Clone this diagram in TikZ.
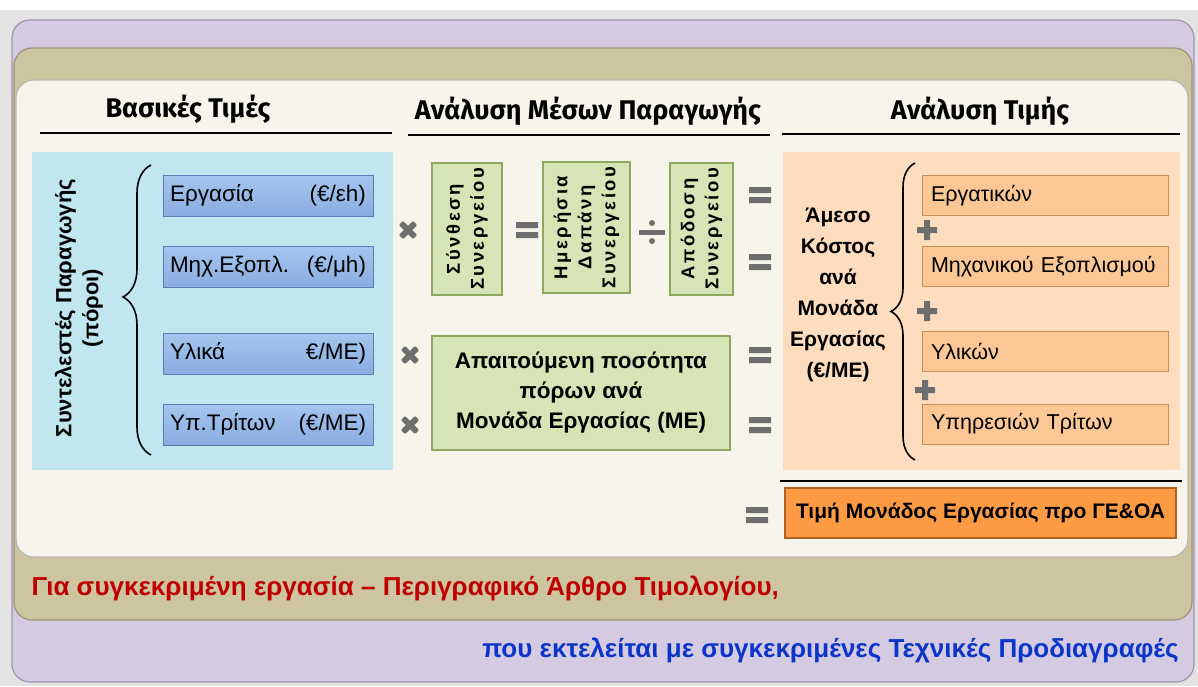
\documentclass[tikz,border=0pt]{standalone}
\usepackage{fontspec}
\setmainfont{Liberation Sans}
\newfontfamily\headfont{Fira Sans}
\usetikzlibrary{decorations.pathreplacing,positioning}
\definecolor{pagegray}{HTML}{E3E3E3}
\definecolor{lavender}{HTML}{D4CAE2}
\definecolor{khaki}{HTML}{CDC59F}
\definecolor{cream}{HTML}{F7F5EB}
\definecolor{bluepanel}{HTML}{C1E6F0}
\definecolor{orangepanel}{HTML}{FDDDBD}
\definecolor{bluetop}{HTML}{A6C5EF}
\definecolor{bluebot}{HTML}{88ADE0}
\definecolor{blueedge}{HTML}{5A7DB5}
\definecolor{greenfill}{HTML}{D7E4B5}
\definecolor{greenedge}{HTML}{8FA860}
\definecolor{orangebox}{HTML}{FBC895}
\definecolor{orangeedge}{HTML}{C78E55}
\definecolor{pricefill}{HTML}{FD9B45}
\definecolor{priceedge}{HTML}{B0631F}
\definecolor{symgray}{HTML}{6E6E6E}
\definecolor{redtxt}{HTML}{C00000}
\definecolor{bluetxt}{HTML}{0A35C8}
\begin{document}
\begin{tikzpicture}[
	x = 1pt, y = -1pt,
	panel/.style = { draw = #1!75!black, fill = #1, line width = 1.2pt, rounded corners = 18pt },
	headtxt/.style = { font = \headfont\bfseries\fontsize{27}{31}\selectfont },
	rule/.style = { line width = 2.4pt },
	brace/.style 2 args = { decorate, decoration = { brace, amplitude = #1, aspect = #2 }, line width = 1.6pt },
	bluebox/.style = { draw = blueedge, top color = bluetop, bottom color = bluebot, line width = 1pt,
		minimum width = 210pt, minimum height = 41pt, text width = 196pt, inner sep = 0pt,
		font = \fontsize{22.5}{26}\selectfont },
	greenbox/.style = { draw = greenedge, fill = greenfill, line width = 1.2pt, inner sep = 0pt,
		align = center, font = \bfseries\fontsize{18}{23}\selectfont },
	greenrot/.style = { greenbox, rotate = 90,
		font = \bfseries\fontsize{18.5}{24}\selectfont\addfontfeatures{LetterSpace=14} },
	orangebox/.style = { draw = orangeedge, fill = orangebox, line width = 1pt,
		minimum width = 246pt, minimum height = 40pt, text width = 228pt, align = left, inner sep = 0pt,
		font = \fontsize{21.5}{25}\selectfont },
	timessign/.pic = {
		\fill [symgray, rotate = 45, rounded corners = 1pt] (-3,-10) rectangle (3,10) (-10,-3) rectangle (10,3);
	},
	plussign/.pic = {
		\fill [symgray] (-3,-10) rectangle (3,10) (-10,-3) rectangle (10,3);
	},
	eqsign/.pic = {
		\fill [symgray] (-11,-8) rectangle (11,-2) (-11,2) rectangle (11,8);
	},
	divsign/.pic = {
		\fill [symgray] (-13,-2.5) rectangle (13,2.5);
		\fill [symgray] (0,-9) circle (3) (0,9) circle (3);
	}
]
	\useasboundingbox (0,0) rectangle (1198,686);
	\fill [white] (0,0) rectangle (1198,686);
	\fill [pagegray] (0,10) rectangle (1198,686);
	\draw [panel = lavender] (12,20) rectangle (1194,682);
	\draw [panel = khaki] (14,48) rectangle (1192,620);
	\draw [panel = cream] (16,80) rectangle (1188,557);

	\node [headtxt] (bashead) at (188,109) { Βασικές Τιμές };
	\node [headtxt] (meshead) at (588,111) { Ανάλυση Μέσων Παραγωγής };
	\node [headtxt] (timhead) at (980,111) { Ανάλυση Τιμής };
	\draw [rule] (40,133) -- (392,133);
	\draw [rule] (408,135) -- (770,135);
	\draw [rule] (782,134) -- (1180,134);

	\fill [bluepanel] (32,152) rectangle (393,470);
	\fill [orangepanel] (783,152) rectangle (1180,470);

	\node [rotate = 90, align = center, font = \bfseries\fontsize{22}{27}\selectfont] (syntel) at (79,308) { Συντελεστές Παραγωγής\\(πόροι) };
	\coordinate (lbrbot) at (151,455);
	\coordinate (lbrtop) at (151,165);
	\draw [brace = {28pt}{0.545}] (lbrbot) -- (lbrtop);

	\node [bluebox] (ergasia) at (268,195.5) { Εργασία \hfill (€/εh) };
	\node [bluebox] (mixan) at (268,266.5) { Μηχ.Εξοπλ. \hfill (€/μh) };
	\node [bluebox] (ylika) at (268,353.5) { Υλικά \hfill €/ΜΕ) };
	\node [bluebox] (tritoi) at (268,424.5) { Υπ.Τρίτων \hfill (€/ΜΕ) };

	\pic (x1) at (408,230) { timessign };
	\pic (x2) at (410,355) { timessign };
	\pic (x3) at (410,425) { timessign };

	\node [greenrot, minimum width = 132pt, minimum height = 70pt] (synthesi) at (467,229) { Σύνθεση\\Συνεργείου };
	\pic (e1) at (527,230) { eqsign };
	\node [greenrot, minimum width = 131pt, minimum height = 87pt] (dapani) at (586.5,227.5) { Ημερήσια\\Δαπάνη\\Συνεργείου };
	\pic (d1) at (652,232) { divsign };
	\node [greenrot, minimum width = 132pt, minimum height = 63pt] (apodosi) at (701.5,229) { Απόδοση\\Συνεργείου };
	\node [greenbox, minimum width = 298pt, minimum height = 114pt, font = \bfseries\fontsize{22.5}{30}\selectfont] (posotita) at (581,393) { Απαιτούμενη ποσότητα\\πόρων ανά\\Μονάδα Εργασίας (ΜΕ) };

	\pic (e2) at (760,195) { eqsign };
	\pic (e3) at (760,262) { eqsign };
	\pic (e4) at (760,355) { eqsign };
	\pic (e5) at (760,425) { eqsign };

	\node [align = center, font = \bfseries\fontsize{21}{31}\selectfont] (amesokostos) at (838,295) { Άμεσο\\Κόστος\\ανά\\Μονάδα\\Εργασίας\\(€/ΜΕ) };
	\coordinate (rbrbot) at (915,460);
	\coordinate (rbrtop) at (915,163);
	\draw [brace = {24pt}{0.5}] (rbrbot) -- (rbrtop);

	\node [orangebox] (ergatikon) at (1045,195.5) { Εργατικών };
	\pic (p1) at (927,230) { plussign };
	\node [orangebox] (mixanikou) at (1045,266.5) { Μηχανικού Εξοπλισμού };
	\pic (p2) at (927,311) { plussign };
	\node [orangebox] (ylikon) at (1045,351.5) { Υλικών };
	\pic (p3) at (925,390) { plussign };
	\node [orangebox] (ypiresion) at (1045,424) { Υπηρεσιών Τρίτων };

	\draw [rule] (780,481) -- (1182,481);
	\pic (e6) at (757,515) { eqsign };
	\node [draw = priceedge, fill = pricefill, line width = 1.2pt, minimum width = 391pt, minimum height = 50pt,
		font = \bfseries\fontsize{21}{25}\selectfont] (timi) at (980.5,513) { Τιμή Μονάδος Εργασίας προ ΓΕ\&ΟΑ };

	\node [anchor = west, text = redtxt, font = \bfseries\fontsize{26}{30}\selectfont] (arthro) at (28,588) { Για συγκεκριμένη εργασία – Περιγραφικό Άρθρο Τιμολογίου, };
	\node [anchor = east, text = bluetxt, font = \bfseries\fontsize{26}{30}\selectfont] (prodiagr) at (1182,650) { που εκτελείται με συγκεκριμένες Τεχνικές Προδιαγραφές };
\end{tikzpicture}
\end{document}
